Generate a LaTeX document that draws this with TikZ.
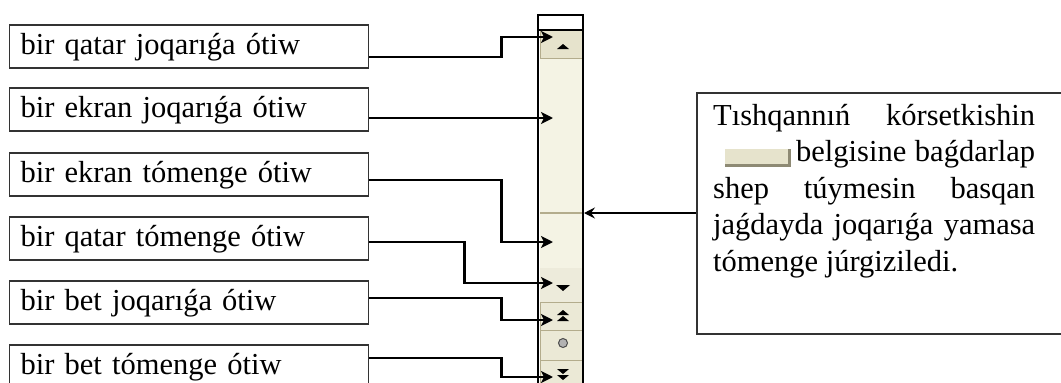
\documentclass[tikz,border=0pt]{standalone}
\usepackage{fontspec}
\setmainfont{Liberation Serif}
\usetikzlibrary{arrows.meta}
\definecolor{sbcream}{HTML}{F4F3E4}
\definecolor{sbbutton}{HTML}{E6E3CC}
\definecolor{sbedge}{HTML}{B3AC8C}
\definecolor{iconshade}{HTML}{8E8A74}
\definecolor{boxline}{HTML}{333333}
\newcommand{\thumbicon}{\raisebox{-5pt}{\rlap{\textcolor{iconshade}{\rule{66pt}{18pt}}}\raisebox{3pt}{\textcolor{sbbutton}{\rule{63pt}{15pt}}}}}
\begin{document}
\begin{tikzpicture}[>={Stealth[length=12pt, width=12pt, inset=3pt]}, x=1pt, y=-1pt,
  labelbox/.style={draw=boxline, line width=1.3pt, anchor=west, align=left,
    text width=337pt, inner xsep=11pt, inner ysep=2pt, minimum height=43pt,
    text height=23pt, text depth=8pt, font=\fontsize{30.5}{36.5}\selectfont},
  notebox/.style={draw=boxline, line width=2pt, anchor=north west,
    minimum width=380pt, minimum height=241pt},
  arr/.style={->, line width=2.6pt},
  thinarr/.style={{Stealth[length=11pt, width=11pt, inset=4pt]}-, line width=1.3pt}]
\useasboundingbox (0,0) rectangle (1061,383);
% scroll bar
\fill[sbcream] (540,15) rectangle (582,392);
\fill[white] (540,15) rectangle (582,30);
\filldraw[fill=sbbutton, draw=sbedge, line width=1pt] (540,30) rectangle (582,58);
\fill[black] (557,49) -- (569,49) -- (563,44) -- cycle;
\draw[sbedge, line width=2pt] (540,213) -- (582,213);
\fill[sbbutton!70!white] (540,268) rectangle (582,302);
\fill[black] (556,285) -- (570,285) -- (563,291) -- cycle;
\filldraw[fill=sbbutton!80!white, draw=sbedge, line width=1pt] (540,302) rectangle (582,330);
\filldraw[fill=sbbutton!80!white, draw=sbedge, line width=1pt] (540,330) rectangle (582,360);
\filldraw[fill=sbbutton!80!white, draw=sbedge, line width=1pt] (540,360) rectangle (582,392);
\fill[black] (557,315) -- (569,315) -- (563,310) -- cycle;
\fill[black] (557,321) -- (569,321) -- (563,316) -- cycle;
\filldraw[fill=gray!60, draw=black!70, line width=1pt] (563,343) circle (4.5);
\fill[black] (557,369) -- (569,369) -- (563,374) -- cycle;
\fill[black] (557,375) -- (569,375) -- (563,380) -- cycle;
\draw[line width=2pt] (538,392) -- (538,15) -- (583,15) -- (583,392);
\draw[line width=1.2pt] (538,30) -- (583,30);
% arrow ends on the scroll bar
\coordinate (up) at (553,37);
\coordinate (pgup) at (553,118);
\coordinate (pgdown) at (553,242);
\coordinate (down) at (553,283);
\coordinate (bup) at (553,320);
\coordinate (bdown) at (553,377);
\coordinate (thumb) at (584,213);
% labels
\node (b1) [labelbox] at (9,46.5) {bir qatar joqarıǵa ótiw};
\node (b2) [labelbox] at (9,109.5) {bir ekran joqarıǵa ótiw};
\node (b3) [labelbox] at (9,174.5) {bir ekran tómenge ótiw};
\node (b4) [labelbox] at (9,238.5) {bir qatar tómenge ótiw};
\node (b5) [labelbox] at (9,302.5) {bir bet joqarıǵa ótiw};
\node (b6) [labelbox] at (9,366.5) {bir bet tómenge ótiw};
\draw[arr] ([yshift=-10.5pt]b1.east) -- ++(132,0) |- (up);
\draw[arr] (b2.east |- pgup) -- (pgup);
\draw[arr] ([yshift=-5.5pt]b3.east) -- ++(132,0) |- (pgdown);
\draw[arr] ([yshift=-3.5pt]b4.east) -- ++(95,0) |- (down);
\draw[arr] ([yshift=4.5pt]b5.east) -- ++(132,0) |- (bup);
\draw[arr] ([yshift=8.5pt]b6.east) -- ++(132,0) |- (bdown);
% note
\node (note) [notebox] at (696,92) {};
\node (notetext) [anchor=north west, text width=322pt, align=justify, inner sep=0pt,
  font=\fontsize{30.5}{36.5}\selectfont]
  at ([xshift=17pt, yshift=-12pt]note.north west)
  {\mbox{Tıshqannıń} \mbox{kórsetkishin}\linebreak
  \hspace*{12pt}\thumbicon\hspace{8pt}\mbox{belgisine} \mbox{baǵdarlap}\linebreak
  shep túymesin basqan\linebreak
  jaǵdayda joqarıǵa yamasa\linebreak
  tómenge júrgiziledi.};
\draw[thinarr] (thumb) -- (note.west |- thumb);
\end{tikzpicture}
\end{document}
